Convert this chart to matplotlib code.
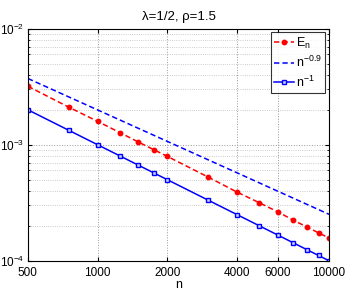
import numpy as np
import matplotlib
matplotlib.use("Agg")
import matplotlib.pyplot as plt
from matplotlib.ticker import FixedLocator, NullLocator, LogLocator

plt.rcParams['font.family'] = ['Liberation Sans', 'DejaVu Sans']
plt.rcParams['mathtext.fontset'] = 'custom'
plt.rcParams['mathtext.rm'] = 'Liberation Sans'
plt.rcParams['mathtext.it'] = 'Liberation Sans'

# 데이터
n = [500, 750, 1000, 1250, 1500, 1750, 2000, 3000, 4000, 5000, 6000, 7000, 8000, 9000, 10000]
E_n = [3.19e-3, 2.11e-3, 1.59e-3, 1.27e-3, 1.055e-3, 9.06e-4, 7.94e-4, 5.27e-4,
       3.91e-4, 3.16e-4, 2.64e-4, 2.24e-4, 1.96e-4, 1.74e-4, 1.57e-4]
ref_09 = [k ** -0.9 for k in n]
ref_1 = [1.0 / k for k in n]
x_ticks = [500, 1000, 2000, 4000, 6000, 10000]

fig = plt.figure(figsize=(3.49, 2.93), dpi=100)
ax = fig.add_axes([0.080, 0.110, 0.863, 0.792])

ax.plot(n, E_n, '--', color='red', marker='o', markersize=3.2, lw=1.1,
        dashes=(3.5, 2), label='$\\mathregular{E_n}$')
ax.plot(n, ref_09, '--', color='blue', lw=1.1, dashes=(3.5, 2),
        label='$\\mathregular{n^{-0.9}}$')
ax.plot(n, ref_1, '-', color='blue', marker='s', markersize=3.5, lw=1.1,
        markerfacecolor='#c8d0ff', label='$\\mathregular{n^{-1}}$')

ax.set_xscale('log')
ax.set_yscale('log')
ax.set_xlim(500, 10000)
ax.set_ylim(1e-4, 1e-2)
ax.xaxis.set_major_locator(FixedLocator(x_ticks))
ax.xaxis.set_minor_locator(NullLocator())
ax.set_xticklabels([str(t) for t in x_ticks])
ax.yaxis.set_major_locator(LogLocator(base=10))
ax.yaxis.set_minor_locator(LogLocator(base=10, subs=np.arange(2, 10)))

ax.grid(True, which='major', ls=':', color='#999999', lw=0.7)
ax.grid(True, which='minor', axis='y', ls=':', color='#bbbbbb', lw=0.6)
ax.tick_params(which='both', direction='in', labelsize=8.5, top=True, right=True)
ax.tick_params(axis='y', pad=2.5)
ax.tick_params(axis='x', pad=4.5)
ax.tick_params(which='major', length=3)
ax.tick_params(which='minor', length=1.5)

ax.set_xlabel('n', fontsize=9, labelpad=0)
ax.set_title('λ=1/2, ρ=1.5', fontsize=9.5, pad=6)

leg = ax.legend(loc='upper right', fontsize=9, frameon=True, fancybox=False,
                handlelength=1.6, handletextpad=0.2, borderpad=0.25,
                labelspacing=0.35, borderaxespad=0.3)
leg.get_frame().set_edgecolor('black')
leg.get_frame().set_linewidth(0.8)

fig.savefig('out.png', dpi=100)
